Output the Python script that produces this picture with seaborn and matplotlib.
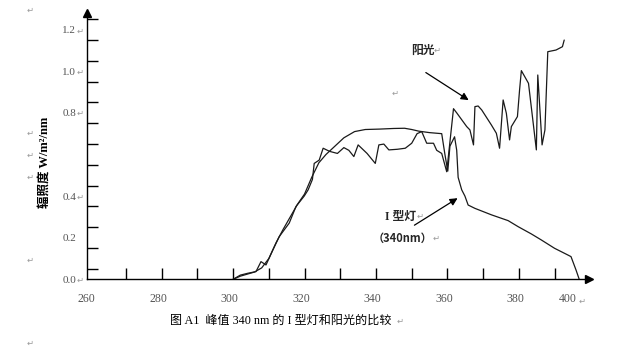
import matplotlib
matplotlib.use('Agg')
import matplotlib.pyplot as plt
import pandas as pd
import seaborn as sns

# Spectral data (wavelength nm, irradiance W/m2/nm)
lamp_nm = [300, 302, 304, 306, 308, 310, 312, 314, 316, 318, 320, 322, 324, 326,
           328.5, 331, 334, 337, 341, 345, 348, 350, 352, 355, 358.4, 359.3, 360.1,
           360.7, 362, 362.6, 363, 364, 364.9, 365.8, 367.7, 372.3, 377, 379.8,
           383.5, 386.3, 390, 393.7, 394.6, 396, 396.9]
lamp_val = [0.0, 0.015, 0.025, 0.035, 0.055, 0.10, 0.175, 0.24, 0.30, 0.36, 0.41,
            0.49, 0.56, 0.60, 0.64, 0.68, 0.71, 0.72, 0.722, 0.725, 0.726, 0.72,
            0.712, 0.705, 0.70, 0.60, 0.52, 0.64, 0.685, 0.62, 0.49, 0.43, 0.40,
            0.357, 0.341, 0.31, 0.282, 0.253, 0.218, 0.189, 0.149, 0.117, 0.109,
            0.045, 0.0]

sun_nm = [300, 302, 304.1, 306.4, 307.8, 309.2, 311.1, 312.9, 315.7, 317.6, 319.9,
          321, 322.2, 322.7, 324.1, 325.2, 327, 329.2, 331, 332.4, 333.8, 335,
          337.5, 339.8, 340.8, 342.2, 343.6, 346, 348.2, 350, 351.5, 352.8, 353.3,
          354.2, 356.1, 357, 358.4, 359.8, 360.7, 361.7, 362.6, 365.4, 366.3,
          367.3, 367.7, 368.6, 369.6, 372.3, 373.7, 374.6, 375.6, 376.5, 377.4,
          377.9, 379.6, 380.2, 380.7, 382.7, 384.9, 385.3, 386.5, 387.3, 388.1,
          390.4, 392.2, 392.7]
sun_val = [0.0, 0.02, 0.029, 0.037, 0.085, 0.069, 0.14, 0.205, 0.27, 0.35, 0.40,
           0.43, 0.48, 0.557, 0.573, 0.63, 0.615, 0.605, 0.633, 0.62, 0.59, 0.646,
           0.605, 0.557, 0.646, 0.65, 0.622, 0.625, 0.63, 0.654, 0.70, 0.71, 0.69,
           0.654, 0.654, 0.62, 0.605, 0.517, 0.66, 0.82, 0.80, 0.734, 0.718,
           0.646, 0.83, 0.833, 0.814, 0.742, 0.702, 0.63, 0.862, 0.798, 0.67,
           0.734, 0.782, 0.91, 1.003, 0.942, 0.622, 0.982, 0.646, 0.718, 1.094,
           1.102, 1.118, 1.15]

xtick_values = [260, 280, 300, 320, 340, 360, 380, 400]
xtick_labels = ['260', '280', '300', '320', '340', '360', '380', '400']
ytick_values = [0.0, 0.2, 0.4, 0.8, 1.0, 1.2]
ytick_labels = ['0.0', '0.2', '0.4', '0.8', '1.0', '1.2']

ylabel = '辐照度 W/m²/nm'
caption = '图 A1  峰值 340 nm 的 I 型灯和阳光的比较'

df_lamp = pd.DataFrame({'nm': lamp_nm, 'val': lamp_val})
df_sun = pd.DataFrame({'nm': sun_nm, 'val': sun_val})

sns.set_style('white')
plt.rcParams['font.family'] = ['Liberation Serif', 'Noto Sans CJK SC', 'DejaVu Sans']

W, H = 629, 355
fig = plt.figure(figsize=(W / 100, H / 100), dpi=100)
ax = fig.add_axes([86.7 / W, (H - 279.3) / H, 501.8 / W, 266.3 / H])


def px(x, y):
    # pixel position in the picture -> figure fraction
    return x / W, 1 - y / H


sns.lineplot(data=df_lamp, x='nm', y='val', color='#1a1a1a', lw=0.9,
             estimator=None, sort=False, ax=ax)
sns.lineplot(data=df_sun, x='nm', y='val', color='#1a1a1a', lw=0.9,
             estimator=None, sort=False, ax=ax)

ax.set_xlim(260, 399.5)
ax.set_ylim(0, 1.28)
for side in ['top', 'right']:
    ax.spines[side].set_visible(False)
for side in ['left', 'bottom']:
    ax.spines[side].set_color('black')
    ax.spines[side].set_linewidth(1.0)

# axis arrows
ax.plot(0, 1, '^', color='black', ms=5.5, transform=ax.transAxes, clip_on=False)
ax.plot(1, 0, '>', color='black', ms=5.5, transform=ax.transAxes, clip_on=False)

# tick marks (inside) and labels (Word-style offset)
ax.set_xticks([v - 1 for v in xtick_values[:-1]] + [393.6], xtick_labels)
ax.set_yticks(ytick_values, ytick_labels)
ax.set_xticks(range(270, 400, 10), minor=True)
ax.set_yticks([0.05 + 0.1 * i for i in range(13)], minor=True)
ax.tick_params(which='both', bottom=True, left=True)
ax.tick_params(which='major', length=0, colors='#555555')
ax.tick_params(axis='x', which='major', pad=10, labelsize=8.5)
ax.tick_params(axis='y', which='major', pad=7.5, labelsize=8)
ax.tick_params(which='minor', direction='in', length=8, width=1.0, color='black')
ax.set_xlabel('')
ax.set_ylabel('')

fig.text(*px(45, 162), ylabel, rotation=90, ha='center', va='center',
         fontsize=9, fontweight='bold', color='black')
fig.text(*px(170, 321), caption, ha='left', va='center', fontsize=8.7,
         color='black')

# annotations
ax.text(353.2, 1.102, '阳光', ha='center', va='center', fontsize=8.5,
        fontweight='bold', family=['Noto Sans CJK SC'])
ax.annotate('', xy=(366.6, 0.854), xytext=(353.3, 1.001),
            arrowprops=dict(arrowstyle='-|>', color='black', lw=0.9,
                            mutation_scale=11))
ax.text(347.0, 0.301, 'I 型灯', ha='center', va='center', fontsize=8.5,
        fontweight='bold')
ax.text(347.3, 0.197, '（340nm）', ha='center', va='center', fontsize=8,
        fontweight='bold', family=['Noto Sans CJK SC'])
ax.annotate('', xy=(363.5, 0.397), xytext=(350.1, 0.253),
            arrowprops=dict(arrowstyle='-|>', color='black', lw=0.9,
                            mutation_scale=11))

# Word paragraph marks
marks = [(30, 10), (30, 133), (30, 155), (30, 177), (30, 260), (30, 343),
         (395, 93), (80, 31), (80, 72), (80, 113), (80, 197), (80, 280),
         (582, 301), (437, 50), (420, 216), (436, 238), (400, 321)]
for mx, my in marks:
    fig.text(*px(mx, my), '↵', ha='center', va='center', fontsize=6,
             color='#999999', family='DejaVu Sans')

fig.savefig('out.png', dpi=100)
